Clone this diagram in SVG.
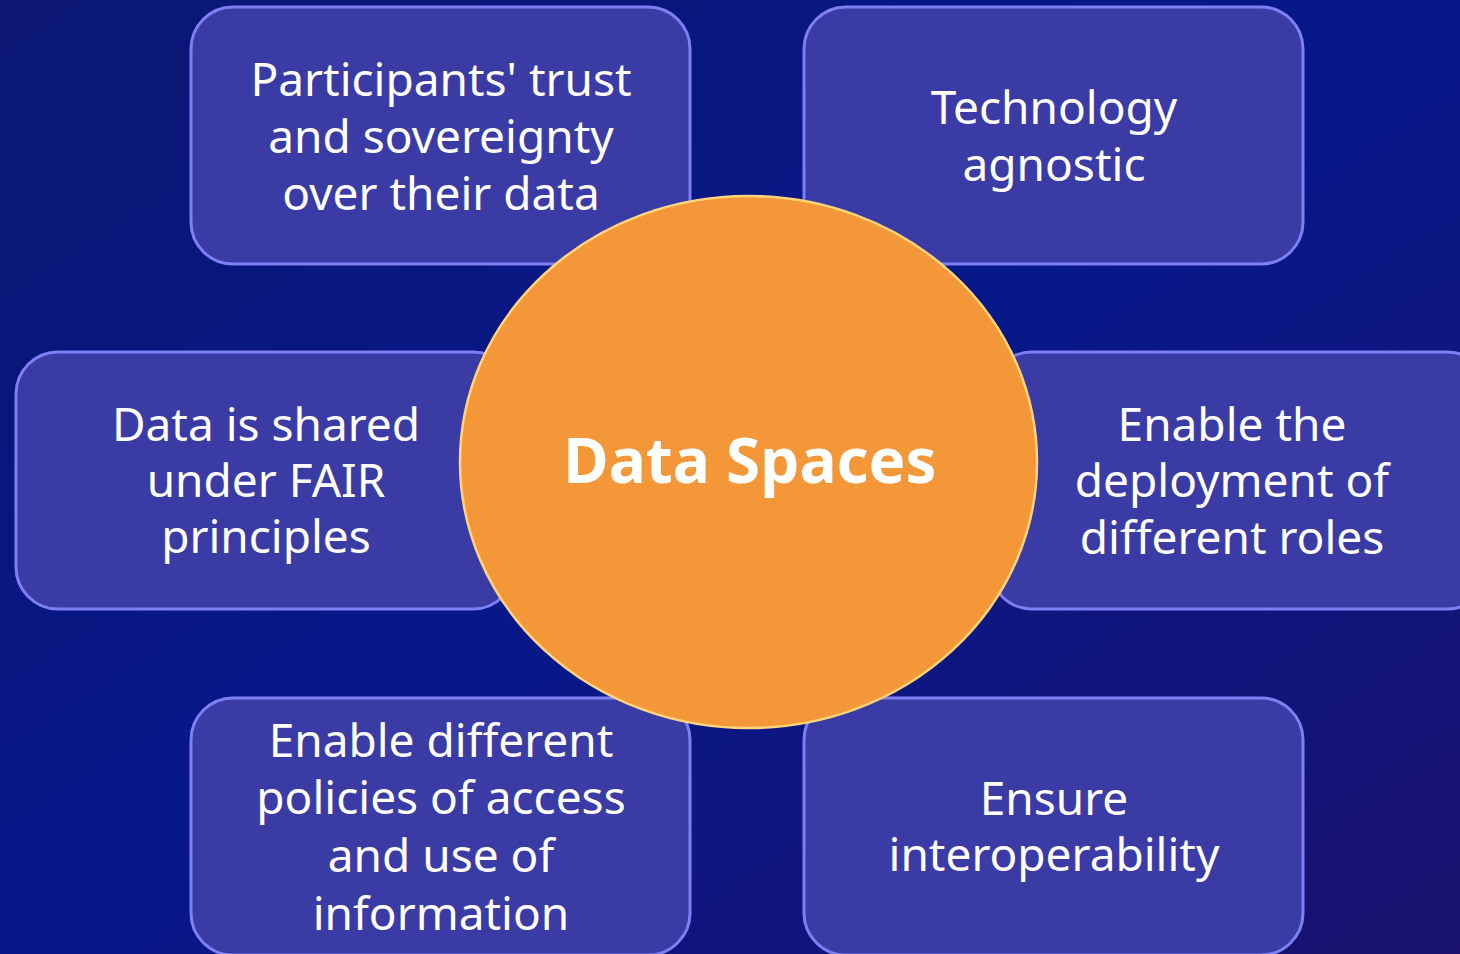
<svg xmlns="http://www.w3.org/2000/svg" width="1460" height="954" viewBox="0 0 1460 954">
<defs>
<linearGradient id="bg" x1="0" y1="0" x2="1" y2="1">
<stop offset="0" stop-color="#0b1772"/>
<stop offset="0.5" stop-color="#07188a"/>
<stop offset="1" stop-color="#1a126e"/>
</linearGradient>
<style>
.box{fill:#3b3ba6;stroke:#7d7ff2;stroke-width:3}
.t{fill:#ffffff;font-family:"Noto Sans","Open Sans",sans-serif;font-size:46px;text-anchor:middle}
.c{fill:#f49738;stroke:#ffd47c;stroke-width:2.5}
.ct{fill:#ffffff;font-family:"Noto Sans","Open Sans",sans-serif;font-size:62px;font-weight:bold;text-anchor:middle}
</style>
</defs>
<rect width="1460" height="954" fill="url(#bg)"/>
<g id="trust">
<rect class="box" x="191" y="7" width="499" height="257" rx="42"/>
<text class="t"><tspan x="441" y="96">Participants' trust</tspan><tspan x="441" y="153">and sovereignty</tspan><tspan x="441" y="210">over their data</tspan></text>
</g>
<g id="agnostic">
<rect class="box" x="804" y="7" width="499" height="257" rx="42"/>
<text class="t"><tspan x="1054" y="124">Technology</tspan><tspan x="1054" y="181">agnostic</tspan></text>
</g>
<g id="fair">
<rect class="box" x="16" y="352" width="499" height="257" rx="42"/>
<text class="t"><tspan x="266" y="441">Data is shared</tspan><tspan x="266" y="497">under FAIR</tspan><tspan x="266" y="553">principles</tspan></text>
</g>
<g id="roles">
<rect class="box" x="990" y="352" width="499" height="257" rx="42"/>
<text class="t"><tspan x="1232" y="441">Enable the</tspan><tspan x="1232" y="497">deployment of</tspan><tspan x="1232" y="554">different roles</tspan></text>
</g>
<g id="policies">
<rect class="box" x="191" y="698" width="499" height="257" rx="42"/>
<text class="t"><tspan x="441" y="757">Enable different</tspan><tspan x="441" y="814">policies of access</tspan><tspan x="441" y="872">and use of</tspan><tspan x="441" y="930">information</tspan></text>
</g>
<g id="interop">
<rect class="box" x="804" y="698" width="499" height="257" rx="42"/>
<text class="t"><tspan x="1054" y="815">Ensure</tspan><tspan x="1054" y="871">interoperability</tspan></text>
</g>
<g id="connectors"></g>
<g id="center">
<ellipse class="c" cx="748.5" cy="462" rx="288.5" ry="266"/>
<text class="ct" x="750" y="483">Data Spaces</text>
</g>
</svg>
